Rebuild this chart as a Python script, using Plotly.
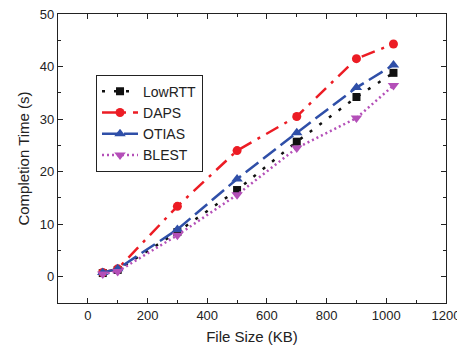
import plotly.graph_objects as go

file_size = [50, 100, 300, 500, 700, 900, 1024]
lowrtt = [0.7, 1.3, 8.5, 16.5, 25.7, 34.2, 38.8]
daps = [0.8, 1.5, 13.4, 24.0, 30.5, 41.5, 44.3]
otias = [0.8, 1.5, 9.0, 18.6, 27.4, 36.0, 40.3]
blest = [0.5, 1.0, 7.9, 15.6, 24.5, 30.2, 36.4]

series = [
    ("LowRTT", lowrtt, "#111111", "3px,9px", "square", 8),
    ("DAPS", daps, "#ec1c24", "14px,7px,3px,7px", "circle", 9),
    ("OTIAS", otias, "#2f4fa8", "16px,6px", "triangle-up", 10),
    ("BLEST", blest, "#b44fb8", "2px,3px", "triangle-down", 10),
]

fig = go.Figure()
for name, ys, color, dash, sym, size in series:
    fig.add_trace(go.Scatter(
        x=file_size, y=ys, name=name, mode="lines+markers",
        line=dict(color=color, width=2.5, dash=dash),
        marker=dict(symbol=sym, size=size, color=color),
    ))

font_family = "Liberation Sans, Arial"
axis_common = dict(
    showgrid=False, zeroline=False, showline=True, linecolor="#222", linewidth=1.2,
    mirror="allticks", ticks="inside", ticklen=5, tickcolor="#222",
    tickfont=dict(family=font_family, size=13, color="#222"),
    automargin=False, ticklabeloverflow="allow",
)

fig.update_layout(
    width=457, height=338,
    margin=dict(l=50, r=19, t=6, b=43),
    paper_bgcolor="white", plot_bgcolor="white",
    xaxis=dict(range=[-100, 1200], dtick=200, tick0=0,
               minor=dict(dtick=100, ticks="inside", ticklen=3, tickcolor="#222"),
               title=dict(text="File Size (KB)", standoff=9,
                          font=dict(family=font_family, size=15, color="#222")),
               **axis_common),
    yaxis=dict(range=[-5, 50], dtick=10, tick0=0,
               minor=dict(dtick=5, ticks="inside", ticklen=3, tickcolor="#222"),
               title=dict(text="Completion Time (s)", standoff=6,
                          font=dict(family=font_family, size=15, color="#222")),
               **axis_common),
    legend=dict(x=0.098, y=0.79, xanchor="left", yanchor="top",
                bordercolor="#222", borderwidth=1, bgcolor="white",
                font=dict(family=font_family, size=14, color="#222"),
                tracegroupgap=0, itemwidth=36),
    showlegend=True,
)

fig.write_html("out.html")
